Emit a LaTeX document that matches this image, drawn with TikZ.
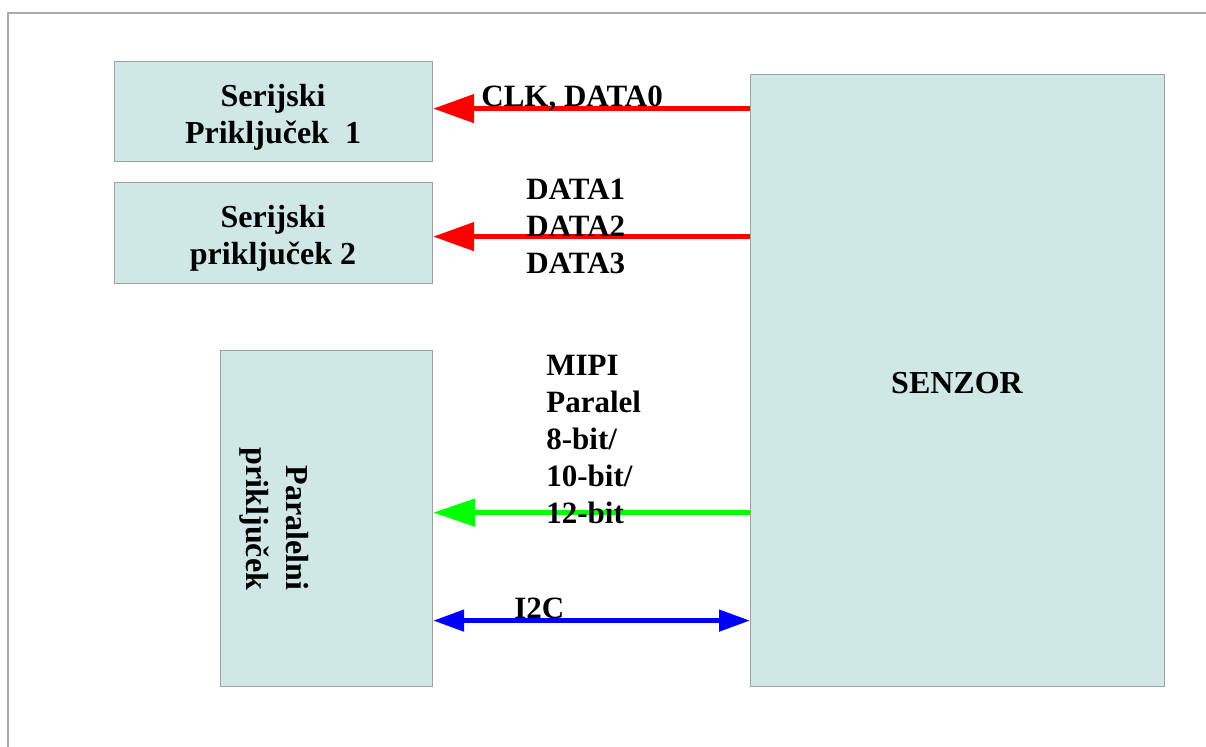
\documentclass[tikz,border=0pt]{standalone}
\usepackage{fontspec}
\setmainfont{Liberation Serif}
\usetikzlibrary{arrows.meta}
\definecolor{boxfill}{RGB}{207,231,229}
\definecolor{boxline}{RGB}{160,160,160}
\definecolor{frameline}{RGB}{170,170,170}
\definecolor{sigred}{RGB}{255,0,0}
\definecolor{siggreen}{RGB}{0,255,0}
\definecolor{sigblue}{RGB}{0,0,255}
\begin{document}
\begin{tikzpicture}[x=0.5pt,y=-0.5pt,
  box/.style={draw=boxline, fill=boxfill, line width=0.6pt, rectangle, inner sep=0pt,
    anchor=north west, font=\fontsize{16}{18.5}\selectfont\bfseries, align=center},
  boxtext/.style={inner sep=0pt, font=\fontsize{16}{18.5}\selectfont\bfseries, align=center},
  lbl/.style={inner sep=0pt, font=\fontsize{15.5}{18.5}\selectfont\bfseries, align=left},
  sig/.style={line width=2.4pt},
  redarr/.style={sig, draw=sigred, -{Triangle[length=20.5pt,width=14pt]}},
  greenarr/.style={sig, draw=siggreen, -{Triangle[length=21pt,width=13.5pt]}},
  bluearr/.style={sig, draw=sigblue, {Triangle[length=15.5pt,width=10.5pt]}-{Triangle[length=15.5pt,width=10.5pt]}}
]
\useasboundingbox (0,0) rectangle (1206,747);
\draw[frameline, line width=0.6pt] (1206,13) -- (8,13) -- (8,747);

\node[box, minimum width=159pt, minimum height=50pt] (s1) at (114,61) {};
\node[box, minimum width=159pt, minimum height=50.5pt] (s2) at (114,182) {};
\node[box, minimum width=106pt, minimum height=168pt] (p3) at (220,350) {};
\node[box, minimum width=207pt, minimum height=306pt] (senzor) at (750,74) {};

\node[boxtext] (s1t) at (273,117.5) {Serijski\\Priključek\ \ 1};
\node[boxtext] (s2t) at (273,238.5) {Serijski\\priključek 2};
\node[boxtext] (sent) at (957,383) {SENZOR};
\node[rotate=-90, inner sep=0pt, font=\fontsize{16}{20}\selectfont\bfseries, align=right] (p3t) at (274,519) {Paralelni\\priključek};

\coordinate (e1) at ([yshift=1.5pt]s1.east);
\coordinate (e2) at ([yshift=-1.75pt]s2.east);
\coordinate (e3) at ([yshift=3pt]p3.east);
\coordinate (e4) at ([yshift=-51pt]p3.east);

\draw[redarr] (e1 -| senzor.west) -- (e1);
\draw[redarr] (e2 -| senzor.west) -- (e2);
\draw[greenarr] (e3 -| senzor.west) -- (e3);
\draw[bluearr] (e4) -- (e4 -| senzor.west);

\node[lbl, anchor=base west] (l1) at (481,107) {CLK, DATA0};
\node[lbl, anchor=north west] (l2) at (526,179) {DATA1\\DATA2\\DATA3};
\node[lbl, anchor=north west] (l3) at (546,355) {MIPI\\Paralel\\8-bit/\\10-bit/\\12-bit};
\node[lbl, anchor=base west] (l4) at (514,619) {I2C};
\end{tikzpicture}
\end{document}
